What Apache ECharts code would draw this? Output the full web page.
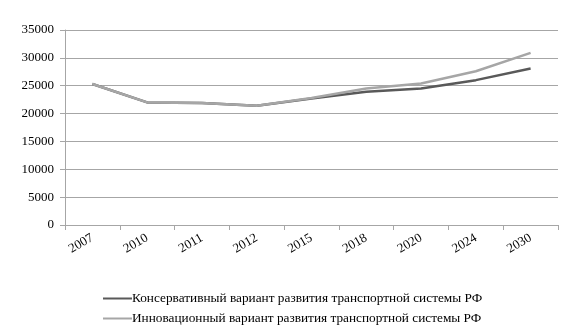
<!DOCTYPE html>
<html>
<head>
<meta charset="utf-8">
<script src="https://cdn.jsdelivr.net/npm/echarts@6/dist/echarts.min.js"></script>
<style>
html,body{margin:0;padding:0;background:#fff}
#chart{width:576px;height:336px}
</style>
</head>
<body>
<div id="chart"></div>
<script>
// годы
var years = ['2007', '2010', '2011', '2012', '2015', '2018', '2020', '2024', '2030']
// консервативный вариант
var conservative = [25300, 22000, 21900, 21400, 22700, 23900, 24500, 26000, 28100]
// инновационный вариант
var innovative = [25300, 22000, 21900, 21400, 22800, 24500, 25400, 27600, 30900]
var yTicks = [0, 5000, 10000, 15000, 20000, 25000, 30000, 35000]

var font = '"Liberation Serif", "Times New Roman", serif'
var myChart = echarts.init(document.getElementById('chart'))
myChart.setOption({
    animation: false,
    textStyle: {fontFamily: font},
    grid: {left: 65, right: 18, top: 30, bottom: 111},
    legend: {
        orient: 'vertical',
        left: 98,
        top: 287,
        itemWidth: 29,
        itemHeight: 10,
        itemGap: 7,
        icon: 'path://M0,4L29,4L29,6L0,6Z',
        textStyle: {fontFamily: font, fontSize: 13.3, color: '#000', padding: [0, 0, 0, -5]},
        data: ['Консервативный вариант развития транспортной системы РФ', 'Инновационный вариант развития транспортной системы РФ']
    },
    xAxis: {
        type: 'category',
        data: years,
        boundaryGap: true,
        axisLine: {lineStyle: {color: '#a6a6a6', width: 1}},
        axisTick: {show: true, length: 5, lineStyle: {color: '#a6a6a6'}},
        axisLabel: {rotate: 30, fontFamily: font, fontSize: 13, color: '#000', margin: 12}
    },
    yAxis: {
        type: 'value',
        min: yTicks[0],
        max: yTicks[yTicks.length - 1],
        interval: 5000,
        axisLine: {show: true, lineStyle: {color: '#a6a6a6', width: 1}},
        axisTick: {show: true, length: 5, lineStyle: {color: '#a6a6a6'}},
        axisLabel: {fontFamily: font, fontSize: 13, color: '#000', margin: 11, formatter: function (v) { return String(v) }},
        splitLine: {lineStyle: {color: '#a6a6a6', width: 1}}
    },
    series: [
        {
            name: 'Консервативный вариант развития транспортной системы РФ',
            type: 'line',
            data: conservative,
            symbol: 'none',
            z: 2,
            lineStyle: {color: '#595959', width: 2.5},
            itemStyle: {color: '#595959'}
        },
        {
            name: 'Инновационный вариант развития транспортной системы РФ',
            type: 'line',
            data: innovative,
            symbol: 'none',
            z: 3,
            lineStyle: {color: '#a6a6a6', width: 2.5},
            itemStyle: {color: '#a6a6a6'}
        }
    ]
})
</script>
</body>
</html>
